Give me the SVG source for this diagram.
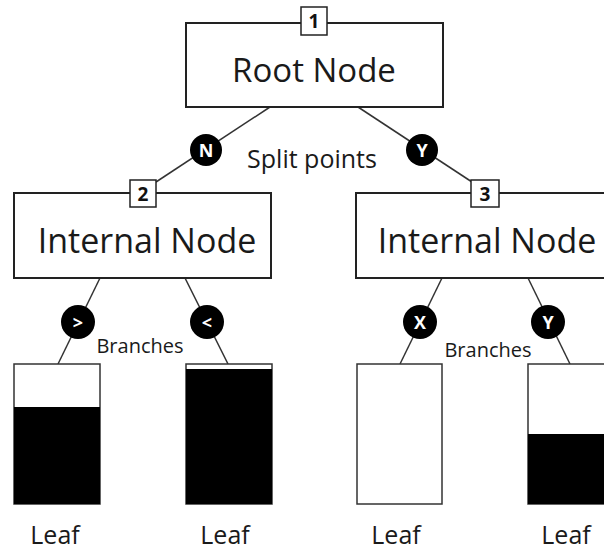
<svg xmlns="http://www.w3.org/2000/svg" width="604" height="551" viewBox="0 0 604 551">
<style>
.box{fill:#fff;stroke:#222;stroke-width:2}
.lbl{fill:#fff;stroke:#222;stroke-width:1.5}
.lt{font-family:"Open Sans","Noto Sans",sans-serif;font-weight:bold;font-size:19px;fill:#111;text-anchor:middle}
.big{font-family:"Open Sans","Noto Sans",sans-serif;fill:#1a1a1a;text-anchor:middle}
.conn line{stroke:#333;stroke-width:1.5}
.dot{fill:#000}
.dt{font-family:"Open Sans","Noto Sans",sans-serif;font-weight:bold;font-size:18px;fill:#fff;text-anchor:middle}
.leaf{fill:#fff;stroke:#333;stroke-width:1.5}
</style>
<g id="connectors" class="conn">
<line x1="270" y1="107" x2="156" y2="182"/>
<line x1="358" y1="107" x2="472" y2="182"/>
<line x1="100" y1="278" x2="58" y2="364"/>
<line x1="185" y1="278" x2="228" y2="364"/>
<line x1="442" y1="278" x2="400" y2="364"/>
<line x1="528" y1="278" x2="570" y2="364"/>
</g>
<g id="root">
<rect class="box" x="186" y="23" width="257" height="84"/>
<rect class="lbl" x="301" y="7" width="26" height="28"/>
<text class="lt" x="314" y="28">1</text>
<text class="big" x="314" y="82" font-size="33">Root Node</text>
</g>
<g id="node2">
<rect class="box" x="14" y="193" width="257" height="85"/>
<rect class="lbl" x="130" y="180" width="26" height="27"/>
<text class="lt" x="143" y="201">2</text>
<text class="big" x="147" y="253" font-size="34">Internal Node</text>
</g>
<g id="node3">
<rect class="box" x="356" y="193" width="260" height="85"/>
<rect class="lbl" x="471" y="180" width="28" height="27"/>
<text class="lt" x="485" y="201">3</text>
<text class="big" x="487" y="253" font-size="34">Internal Node</text>
</g>
<g id="splitN"><circle class="dot" cx="206" cy="150" r="16"/><text class="dt" x="206" y="156.5">N</text></g>
<g id="splitY"><circle class="dot" cx="422" cy="150" r="16"/><text class="dt" x="422" y="156.5">Y</text></g>
<text id="splitLabel" class="big" x="312" y="168" font-size="25">Split points</text>
<g id="br1"><circle class="dot" cx="78" cy="322" r="17"/><text class="dt" x="78" y="328.5">&gt;</text></g>
<g id="br2"><circle class="dot" cx="207" cy="322" r="17"/><text class="dt" x="207" y="328.5">&lt;</text></g>
<g id="br3"><circle class="dot" cx="420" cy="322" r="17"/><text class="dt" x="420" y="328.5">X</text></g>
<g id="br4"><circle class="dot" cx="548" cy="322" r="17"/><text class="dt" x="548" y="328.5">Y</text></g>
<text id="branchesL" class="big" x="140" y="353" font-size="20">Branches</text>
<text id="branchesR" class="big" x="488" y="357" font-size="20">Branches</text>
<g id="leaf1">
<rect class="leaf" x="14" y="364" width="86" height="140"/>
<rect x="14" y="407" width="86" height="97" fill="#000"/>
<text class="big" x="55" y="544" font-size="25">Leaf</text>
</g>
<g id="leaf2">
<rect class="leaf" x="186" y="364" width="86" height="140"/>
<rect x="186" y="369" width="86" height="135" fill="#000"/>
<text class="big" x="225" y="544" font-size="25">Leaf</text>
</g>
<g id="leaf3">
<rect class="leaf" x="357" y="364" width="85" height="140"/>
<text class="big" x="396" y="544" font-size="25">Leaf</text>
</g>
<g id="leaf4">
<rect class="leaf" x="528" y="364" width="86" height="140"/>
<rect x="528" y="434" width="86" height="70" fill="#000"/>
<text class="big" x="566" y="544" font-size="25">Leaf</text>
</g>
</svg>
